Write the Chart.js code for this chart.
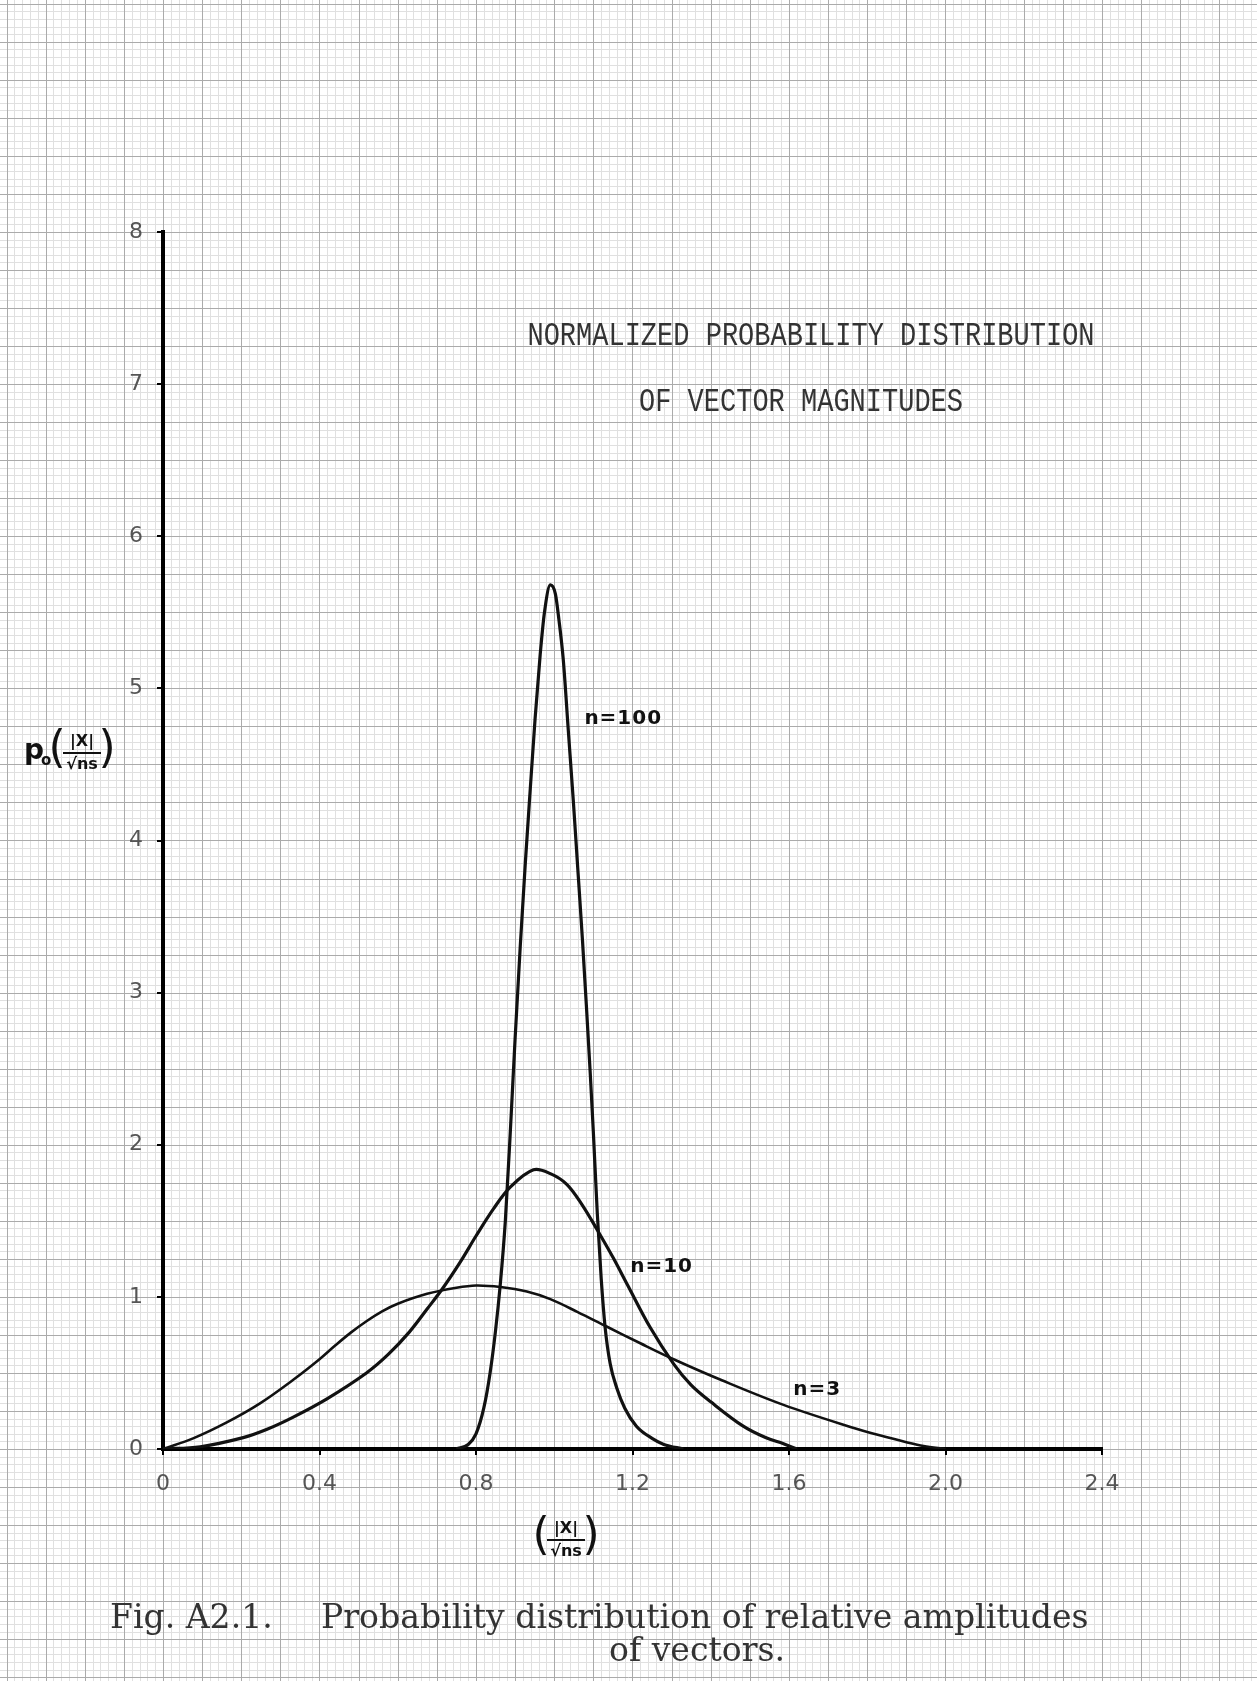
<!DOCTYPE html>
<html>
<head>
<meta charset="utf-8">
<script src="https://cdn.jsdelivr.net/npm/chart.js@4.4.1/dist/chart.umd.min.js"></script>
<style>
  html, body { margin: 0; padding: 0; background: #fff; overflow: hidden; }
  #wrap { width: 1257px; height: 1681px; }
</style>
</head>
<body>
<div id="wrap"><canvas id="chart" width="1257" height="1681"></canvas></div>
<script>
// values: x = |X|/sqrt(ns), y = p0
const n3X = [0, 0.077, 0.163, 0.248, 0.333, 0.40, 0.44, 0.48, 0.52, 0.56, 0.60, 0.675, 0.75, 0.80, 0.862,
             0.93, 0.99, 1.06, 1.13, 1.22, 1.305, 1.43, 1.586, 1.757, 1.834, 1.90, 1.944, 2.0];
const n3Y = [0, 0.07, 0.175, 0.30, 0.455, 0.59, 0.68, 0.765, 0.84, 0.905, 0.955, 1.02, 1.06, 1.075, 1.065,
             1.035, 0.985, 0.90, 0.81, 0.695, 0.59, 0.45, 0.29, 0.145, 0.088, 0.045, 0.02, 0];

const n10X = [0, 0.095, 0.205, 0.266, 0.333, 0.419, 0.52, 0.575, 0.63, 0.675, 0.716, 0.76, 0.80, 0.845, 0.887, 0.947,
              0.99, 1.032, 1.07, 1.11, 1.15, 1.187, 1.245, 1.305, 1.35, 1.40, 1.483, 1.54, 1.586, 1.62];
const n10Y = [0, 0.015, 0.075, 0.13, 0.21, 0.33, 0.50, 0.62, 0.77, 0.92, 1.06, 1.23, 1.40, 1.58, 1.72, 1.835,
              1.81, 1.74, 1.61, 1.44, 1.26, 1.08, 0.80, 0.56, 0.42, 0.31, 0.15, 0.075, 0.035, 0];

const n100X = [0.75, 0.78, 0.80, 0.82, 0.836, 0.85, 0.862, 0.875, 0.888, 0.90, 0.913, 0.926, 0.939, 0.951, 0.964, 0.975, 0.99,
               1.003, 1.012, 1.023, 1.036, 1.049, 1.06, 1.072, 1.082, 1.092, 1.10, 1.11, 1.12, 1.13, 1.143, 1.16, 1.18, 1.21, 1.25, 1.28, 1.33];
const n100Y = [0, 0.03, 0.1, 0.27, 0.5, 0.78, 1.08, 1.5, 2.1, 2.7, 3.3, 3.85, 4.35, 4.8, 5.22, 5.5, 5.68,
               5.62, 5.45, 5.19, 4.72, 4.25, 3.82, 3.35, 2.92, 2.47, 2.08, 1.55, 1.12, 0.8, 0.56, 0.4, 0.27, 0.15, 0.07, 0.03, 0];

const xTicks = [0, 0.4, 0.8, 1.2, 1.6, 2.0, 2.4];
const xTickLabels = ['0', '0.4', '0.8', '1.2', '1.6', '2.0', '2.4'];
const yTicks = [0, 1, 2, 3, 4, 5, 6, 7, 8];

// curve labels, placed in data units
const curveNames = ['n=100', 'n=10', 'n=3'];
const curveLabelX = [1.077, 1.194, 1.611];
const curveLabelY = [4.80, 1.20, 0.39];

const titleLines = ['NORMALIZED PROBABILITY DISTRIBUTION', 'OF VECTOR MAGNITUDES'];
const captionHead = 'Fig. A2.1.';
const captionLines = ['Probability distribution of relative amplitudes', 'of vectors.'];

const toPoints = (xs, ys) => xs.map((x, i) => ({ x, y: ys[i] }));

// graph paper behind everything, stepped off the chart's own scales
const paperGrid = {
    id: 'paperGrid',
    beforeDraw(chart) {
        const { ctx, width, height } = chart;
        const sx = chart.scales.x, sy = chart.scales.y;
        ctx.save();
        ctx.fillStyle = '#ffffff';
        ctx.fillRect(0, 0, width, height);
        const x0 = sx.getPixelForValue(0);
        const dx = sx.getPixelForValue(0.02) - x0;
        const y0 = sy.getPixelForValue(0);
        const dy = y0 - sy.getPixelForValue(0.05);
        for (const major of [false, true]) {
            ctx.strokeStyle = major ? '#ababab' : '#e0e0e0';
            ctx.lineWidth = 1;
            ctx.beginPath();
            for (let i = Math.floor(-x0 / dx); i <= Math.ceil((width - x0) / dx); i++) {
                if ((i % 5 === 0) !== major) continue;
                const px = Math.round(x0 + i * dx) + 0.5;
                ctx.moveTo(px, 0);
                ctx.lineTo(px, height);
            }
            for (let j = Math.floor((y0 - height) / dy); j <= Math.ceil(y0 / dy); j++) {
                if ((j % 5 === 0) !== major) continue;
                const py = Math.round(y0 - j * dy) + 0.5;
                ctx.moveTo(0, py);
                ctx.lineTo(width, py);
            }
            ctx.stroke();
        }
        ctx.restore();
    }
};

function drawFraction(ctx, cx, cy) {
    ctx.save();
    ctx.fillStyle = '#111';
    ctx.strokeStyle = '#111';
    ctx.textAlign = 'center';
    ctx.textBaseline = 'middle';
    ctx.font = 'bold 16px "DejaVu Sans"';
    ctx.fillText('|X|', cx, cy - 11);
    ctx.fillText('\u221Ans', cx, cy + 12);
    ctx.lineWidth = 2;
    ctx.beginPath();
    ctx.moveTo(cx - 19, cy);
    ctx.lineTo(cx + 19, cy);
    ctx.stroke();
    ctx.font = '44px "DejaVu Sans"';
    ctx.fillText('(', cx - 25, cy - 2);
    ctx.fillText(')', cx + 25, cy - 2);
    ctx.restore();
}

const annotations = {
    id: 'annotations',
    afterDraw(chart) {
        const { ctx } = chart;
        const sx = chart.scales.x, sy = chart.scales.y;
        ctx.save();

        // typed heading
        ctx.fillStyle = '#333';
        ctx.font = '27px "Liberation Mono"';
        ctx.textAlign = 'center';
        ctx.textBaseline = 'middle';
        [[811, 336], [801, 402]].forEach(([cx, cy], i) => {
            ctx.save();
            ctx.translate(cx, cy);
            ctx.scale(1, 1.2);
            ctx.fillText(titleLines[i], 0, 0);
            ctx.restore();
        });

        // hand lettered curve labels
        ctx.fillStyle = '#111';
        ctx.font = 'bold 20px "DejaVu Sans"';
        ctx.textAlign = 'left';
        ctx.letterSpacing = '1px';
        curveNames.forEach((name, i) => {
            ctx.fillText(name, sx.getPixelForValue(curveLabelX[i]), sy.getPixelForValue(curveLabelY[i]));
        });
        ctx.letterSpacing = '0px';

        // axis titles
        ctx.font = 'bold 28px "DejaVu Sans"';
        ctx.textBaseline = 'alphabetic';
        ctx.fillText('p', 24, 759);
        ctx.font = 'bold 15px "DejaVu Sans"';
        ctx.fillText('o', 41, 765);
        drawFraction(ctx, 82, 753);
        drawFraction(ctx, 566, 1540);

        // caption
        ctx.fillStyle = '#333';
        let size = 28;
        ctx.font = size + 'px "DejaVu Serif"';
        size = size * 767 / ctx.measureText(captionLines[0]).width;
        ctx.font = size.toFixed(1) + 'px "DejaVu Serif"';
        ctx.textAlign = 'left';
        ctx.fillText(captionHead, 110, 1628);
        ctx.fillText(captionLines[0], 321, 1628);
        ctx.fillText(captionLines[1], 609, 1661);

        ctx.restore();
    }
};

const axisStyle = {
    border: { display: true, color: '#000', width: 4 },
    grid: { display: true, drawOnChartArea: false, drawTicks: true, tickLength: 6, color: '#000', lineWidth: 2 },
};

new Chart(document.getElementById('chart'), {
    type: 'line',
    data: {
        datasets: [
            // the two broad curves are gentle, a plain bezier keeps them round
            { label: 'n=3', data: toPoints(n3X, n3Y), borderWidth: 2.6, tension: 0.35 },
            { label: 'n=10', data: toPoints(n10X, n10Y), borderWidth: 3.2, tension: 0.35 },
            // narrow spike: monotone so the peak and toes do not overshoot
            { label: 'n=100', data: toPoints(n100X, n100Y), borderWidth: 3.2, cubicInterpolationMode: 'monotone' }
        ].map(d => ({ ...d, borderColor: '#111', pointRadius: 0, fill: false }))
    },
    options: {
        responsive: false,
        animation: false,
        devicePixelRatio: 1,
        layout: { padding: { left: 83, right: 155, top: 232, bottom: 172 } },
        plugins: { legend: { display: false }, tooltip: { enabled: false }, title: { display: false } },
        scales: {
            x: {
                type: 'linear', min: 0, max: 2.4,
                ...axisStyle,
                afterFit: s => { s.height = 60; },
                afterBuildTicks: s => { s.ticks = xTicks.map(v => ({ value: v })); },
                ticks: {
                    color: '#555', padding: 16,
                    font: { family: 'DejaVu Sans', size: 22 },
                    maxRotation: 0,
                    callback: (v, i) => xTickLabels[i]
                }
            },
            y: {
                type: 'linear', min: 0, max: 8,
                ...axisStyle,
                afterFit: s => { s.width = 80; },
                afterBuildTicks: s => { s.ticks = yTicks.map(v => ({ value: v })); },
                ticks: {
                    color: '#555', padding: 14,
                    font: { family: 'DejaVu Sans', size: 22 },
                    callback: v => String(v)
                }
            }
        }
    },
    plugins: [paperGrid, annotations]
});
</script>
</body>
</html>
